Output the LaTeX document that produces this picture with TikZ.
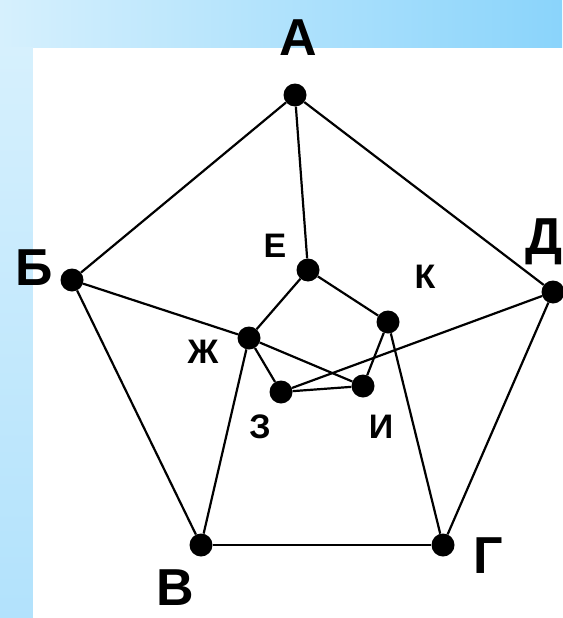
\documentclass[tikz,border=0pt]{standalone}
\usepackage{fontspec}
\setmainfont{Liberation Sans}
\usetikzlibrary{positioning}
\definecolor{skyLight}{RGB}{214, 240, 253}
\definecolor{skyDark}{RGB}{138, 212, 251}
\definecolor{skyMid}{RGB}{178, 226, 252}

\tikzset{
    vertex/.style={circle, fill=black, inner sep=0pt, minimum size=23pt},
    biglabel/.style={inner sep=0pt, font=\fontsize{52}{52}\selectfont\bfseries},
    smalllabel/.style={inner sep=0pt, font=\fontsize{34}{34}\selectfont\bfseries},
    edge/.style={line width=2.2pt}
}

\begin{document}
\begin{tikzpicture}[x=1pt, y=-1pt]
        \useasboundingbox (0,0) rectangle (562,618);
        % background frame
        \shade[left color=skyLight, right color=skyDark] (0,0) rectangle (562,48);
        \shade[top color=skyLight, bottom color=skyMid] (0,48) rectangle (33,618);
        \fill[white] (33,48) rectangle (562,618);

        % outer vertices
        \node[vertex] (a) at (295,95) {};
        \node[vertex] (b) at (72,280) {};
        \node[vertex] (v) at (201,545) {};
        \node[vertex] (g) at (443,545) {};
        \node[vertex] (d) at (553,292) {};
        % inner vertices
        \node[vertex] (e) at (308,270) {};
        \node[vertex] (zh) at (249,338) {};
        \node[vertex] (z) at (281,392) {};
        \node[vertex] (i) at (363,386) {};
        \node[vertex] (k) at (388,322) {};

        % labels
        \node[biglabel] (la) at (298,38) {А};
        \node[biglabel] (lb) at (34,268) {Б};
        \node[biglabel] (lv) at (175,588) {В};
        \node[biglabel] (lg) at (488,556) {Г};
        \node[biglabel] (ld) at (544,242) {Д};
        \node[smalllabel] (le) at (275,246) {Е};
        \node[smalllabel] (lzh) at (203,352) {Ж};
        \node[smalllabel] (lz) at (260,427) {З};
        \node[smalllabel] (li) at (381,427) {И};
        \node[smalllabel] (lk) at (425,277) {К};

        \draw[edge] (a) -- (b);
        \draw[edge] (a) -- (d);
        \draw[edge] (a) -- (e);
        \draw[edge] (b) -- (v);
        \draw[edge] (b) -- (zh);
        \draw[edge] (zh) -- (i);
        \draw[edge] (v) -- (g);
        \draw[edge] (v) -- (zh);
        \draw[edge] (g) -- (d);
        \draw[edge] (g) -- (k);
        \draw[edge] (d) -- (z);
        \draw[edge] (e) -- (zh);
        \draw[edge] (e) -- (k);
        \draw[edge] (zh) -- (z);
        \draw[edge] (z) -- (i);
        \draw[edge] (i) -- (k);
    \end{tikzpicture}
\end{document}
